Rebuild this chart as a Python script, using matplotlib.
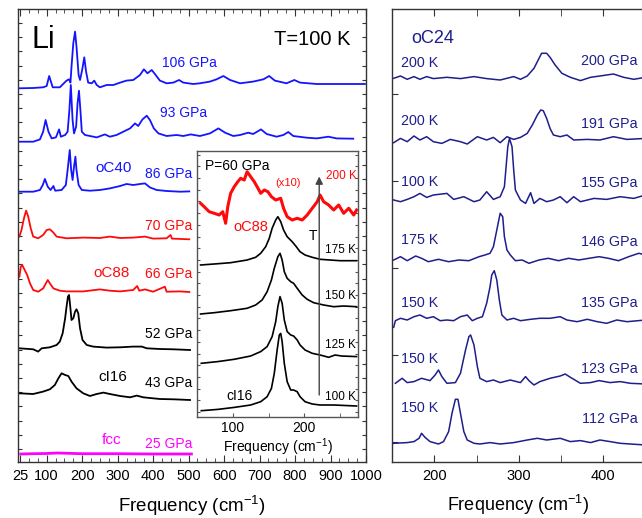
import numpy as np
import matplotlib
matplotlib.use("Agg")
import matplotlib.pyplot as plt
from matplotlib.ticker import FixedLocator

plt.rcParams['font.family'] = ['Liberation Sans', 'DejaVu Sans']
plt.rcParams['mathtext.default'] = 'regular'

BLUE = '#1414ff'
RED = '#ff0a0a'
MAGENTA = '#ff00ff'
NAVY = '#1e1e8c'

# ---- left panel: T=100 K spectra (frequency in cm-1, intensity in arb. units)
li106_f = [23, 62, 90, 100, 107, 117, 137, 156, 163, 167, 170, 175, 180, 184, 190, 194, 200, 206, 211, 217,
           227, 234, 241, 250, 269, 288, 307, 325, 344, 363, 374, 384, 396, 405, 419, 438, 457, 473, 485, 513,
           532, 560, 579, 598, 617, 645, 682, 711, 727, 743, 776, 798, 814, 861, 908, 955, 997]
li106_i = [0, 0.3, 1, 2.3, 12.3, 1, 1, 7.7, 9, 5.7, 21.7, 45, 56.7, 41.7, 13.3, 8.3, 18.3, 31, 16.7, 5.7,
           5, 7.7, 3.3, 1, 3.3, 3.3, 5.7, 7.7, 8.3, 13.3, 19, 15, 18.3, 14.3, 7.7, 5, 5.7, 8.3, 5.7, 4.3,
           5, 6.7, 9, 12.3, 8.3, 5, 6.7, 9, 12.3, 7.7, 5, 8.3, 5.7, 4.3, 4.3, 4.3, 4.3]

li93_f = [23, 62, 81, 90, 97, 105, 114, 126, 135, 140, 152, 159, 164, 168, 173, 177, 183, 187, 191, 195,
          199, 208, 222, 241, 264, 278, 297, 316, 335, 349, 358, 370, 382, 391, 402, 415, 438, 466, 485, 506,
          532, 560, 584, 603, 626, 645, 668, 682, 704, 720, 748, 767, 781, 795, 833, 861, 894, 917, 964]
li93_i = [0, 0, 2.3, 10, 21.7, 10, 3.3, 4.3, 12.3, 5, 6.7, 10, 31.7, 56.7, 21.7, 8.3, 15, 38.3, 51, 31.7,
          10, 6.7, 5.7, 4.3, 7.3, 5, 6.7, 10, 13.3, 18.3, 15.7, 22.3, 26, 21.7, 13.3, 8.3, 5.7, 6.7, 5.7, 7.3,
          5.7, 8.3, 13.3, 9, 5.7, 6.7, 9, 7.7, 12.3, 7.7, 5, 6.7, 9.7, 5.7, 4, 3.3, 5, 3.3, 3]

li86_f = [23, 62, 81, 89, 95, 103, 111, 119, 124, 142, 154, 159, 165, 169, 173, 177, 181, 184, 190, 199,
          222, 250, 278, 307, 325, 344, 363, 377, 391, 410, 438, 476, 502]
li86_i = [0, 0, 1.7, 6.7, 12.7, 5, 1.7, 5.7, 1, 1.7, 6.7, 21.7, 41.7, 21.7, 11.7, 25, 35, 21.7, 6.7, 1.7,
          1, 1.7, 3.3, 5.7, 7.7, 6.7, 7.7, 8.3, 4.3, 1.7, 0.7, 0, 0.3]

li70_f = [23, 29, 36, 42, 48, 55, 62, 76, 90, 100, 109, 119, 128, 156, 203, 250, 278, 307, 344, 377,
          400, 438, 449, 453, 502]
li70_i = [1.7, 8.3, 20, 27.7, 21.7, 10, 1.7, 0, 3.3, 8.3, 9, 5.7, 1.7, 0, 0.7, 0.3, 1.7, 0.3, 0.7, 1.7,
          -0.3, 0, 3.3, -0.3, -1]

li66_f = [23, 27, 31, 39, 45, 53, 62, 76, 90, 103, 109, 119, 137, 156, 203, 250, 278, 307, 344, 355,
          361, 377, 400, 433, 438, 476, 502]
li66_i = [15, 25, 26.7, 21, 16.7, 8.3, 1.7, 0, 3.3, 11.7, 8.3, 3.3, 1, 0.3, 0.3, 2.3, 1, 0.3, 1.7, 5.7,
          1, 2.3, 0, 5, 0, 0.3, -0.3]

li52_f = [23, 62, 76, 86, 109, 128, 137, 145, 152, 156, 160, 163, 166, 170, 175, 180, 184, 189, 194, 201,
          213, 231, 269, 307, 344, 368, 382, 419, 457, 504]
li52_i = [1, 0, -2.3, 1, 2, 4.3, 7.7, 16, 31, 42.7, 52.7, 54.3, 44.3, 29.3, 31, 37.7, 40, 36, 21, 9.3,
          4.3, 2.7, 1.7, 2, 2.7, 2.7, 1, 0.3, 0, -0.7]

li43_f = [23, 62, 90, 109, 123, 133, 142, 152, 161, 170, 184, 203, 222, 241, 260, 278, 307, 335, 354, 372,
          419, 457, 504]
li43_i = [0, -0.7, 1.7, 4, 8.3, 15, 20, 18.3, 17.3, 11.7, 5, 0, -2.7, -0.7, 0.7, -0.7, -2.7, -4, -2.3, -4,
          -5.7, -6, -6.7]

li25_f = [27, 60, 100, 130, 200, 300, 400, 508]
li25_i = [0, 0.3, 0.5, 1, 0.3, 0.3, 0, 0]

left_pressures = ['106 GPa', '93 GPa', '86 GPa', '70 GPa', '66 GPa', '52 GPa', '43 GPa', '25 GPa']
left_offsets = [373.7, 320.3, 270.3, 223.7, 170.3, 112.7, 68.7, 8]

# ---- right panel: oC24 spectra
r200_f = [152, 160, 168, 176, 183, 191, 199, 215, 231, 247, 262, 278, 294, 302, 310, 318, 324, 327, 333, 337,
          343, 351, 361, 373, 385, 396, 412, 424, 436, 450]
r200_i = [0, 2.3, -1, 1.7, -1, 1.7, -0.3, 1, -0.3, 1.7, -0.3, -1.7, 1.7, -1, 2.3, 10, 20, 25, 25, 21,
          13.3, 5, 1, -2.3, 1, 2.3, 4.3, 1, -1, 1]

r191_f = [152, 160, 168, 176, 183, 191, 199, 209, 219, 231, 239, 251, 262, 270, 278, 286, 294, 302, 310, 316,
          322, 326, 329, 333, 337, 341, 349, 357, 365, 381, 396, 412, 428, 450]
r191_i = [-1, 3.3, 0, 5.7, 1.7, 5, 0, -1.7, 2.3, 0, -2.3, 5, 1.7, 4.3, -1, 5, 2.3, 4.3, 8.3, 16.7,
          26.7, 31.7, 31, 23.3, 13.3, 6.7, 5, 6.7, 1.7, 2.3, 1.7, 5, 2.3, 3.3]

r155_f = [152, 160, 168, 176, 183, 191, 199, 215, 223, 235, 247, 254, 262, 270, 278, 283, 285, 287, 289, 292,
          294, 296, 298, 302, 308, 314, 318, 325, 333, 341, 349, 357, 365, 373, 389, 404, 420, 436, 450]
r155_i = [1.7, 0, 2.3, 5, 8.3, 4.3, 6.7, 8.3, 2.3, 5, 0, 1.7, 10, 2.3, 5, 15, 35, 55, 63.3, 55,
          31.7, 11.7, 8.3, 1.7, -1.7, 9, -1.7, 3.3, 0, 1.7, 5, -1, 5, 0, 3.3, 2.3, 5, 3.3, 6.7]

r146_f = [152, 160, 168, 178, 185, 193, 205, 217, 229, 241, 253, 260, 266, 270, 274, 278, 281, 283, 286, 290,
          296, 304, 312, 324, 335, 347, 359, 371, 383, 395, 406, 418, 430, 442, 450]
r146_i = [0, 3.3, -0.7, 4, 1.7, -1.7, 0.7, -1.7, 0, -0.7, 3.3, 5, 6.7, 13.3, 30, 46.7, 43.3, 23.3, 10, 5,
          -0.7, 0, -3.3, 0, 1.7, -0.7, 1.7, 0, 1.7, 3.3, 1.7, -0.7, 3.3, 6.7, 5]

r135_f = [152, 154, 160, 168, 176, 183, 191, 199, 207, 215, 223, 231, 239, 245, 251, 257, 262, 266, 268, 271,
          274, 277, 280, 286, 294, 302, 314, 325, 337, 349, 357, 369, 381, 393, 404, 416, 428, 450]
r135_i = [-7.3, -0.7, 1.7, 0, 3.3, 5, 1.7, 3.3, -0.7, 0, -0.7, 3.3, 5, -0.7, 1.7, 3.3, 16.7, 33.3, 45, 49.3,
          40, 20, 5, 0, 1.7, -0.7, 0.7, 1.7, 1.7, 3.3, 0, -1.7, 0.7, -1.7, -3.3, 0, -1.7, 0]

r123_f = [154, 162, 168, 176, 185, 195, 201, 205, 209, 215, 225, 231, 237, 241, 243, 247, 251, 254, 262, 270,
          278, 290, 302, 308, 312, 318, 325, 337, 349, 355, 361, 373, 385, 395, 408, 420, 432, 450]
r123_i = [0, 5, 0.7, 1.7, 5, 2.7, 8.3, 13.3, 6.7, 0, 0.7, 10, 33.3, 46.7, 48.3, 38.3, 16.7, 5, 1.7, 3.3,
          0.7, 3.3, 0.7, 6.7, 2.7, -1.7, 1.7, 5, 7.3, 9.3, 6, 0, 0.7, 2.7, 0.7, 1.7, 0, -0.7]

r112_f = [152, 168, 176, 182, 185, 189, 195, 205, 211, 217, 221, 225, 228, 231, 235, 239, 247, 254, 266, 278,
          294, 310, 322, 333, 349, 361, 373, 385, 396, 408, 420, 432, 450]
r112_i = [0, 0.7, 1.7, 5, 10, 6, 1.7, -0.7, 1.7, 11.7, 30, 44, 44, 30, 11.7, 3.3, 0, -0.7, 0.7, -0.7,
          0.7, 3.3, 5, 3.3, 5, 1.7, 2.7, 0.7, 3.3, 1.7, 0, -0.7, -1.7]

right_pressures = ['200 GPa', '191 GPa', '155 GPa', '146 GPa', '135 GPa', '123 GPa', '112 GPa']
right_temps = ['200 K', '200 K', '100 K', '175 K', '150 K', '150 K', '150 K']
right_offsets = [383.7, 320.3, 260.3, 202, 142, 78.7, 18.7]

# ---- inset: P=60 GPa, temperature series
in200_f = [55, 60, 67, 74, 81, 86, 90, 93, 97, 102, 107, 111, 116, 120, 125, 130, 134, 139, 144, 149,
           154, 160, 167, 171, 176, 183, 190, 197, 204, 211, 218, 222, 227, 234, 241, 248, 255, 262, 269, 273]
in200_i = [11.7, 8.3, 3.3, 1.7, 0, 3.3, -8.3, 8.3, 21.7, 28.3, 33.3, 36.7, 35, 43.3, 38.3, 33.3, 28.3, 21.7, 25, 23.3,
           18.3, 15, 16.7, 6.7, -1.7, -5, -3.3, -5, 0, 6.7, 13.3, 20, 13.3, 10, 5, 10, 1.7, 6.7, 0, 5]

in175_f = [55, 74, 97, 120, 132, 139, 146, 151, 155, 160, 163, 167, 171, 176, 183, 188, 194, 201, 211, 222,
           236, 250, 273]
in175_i = [0, 1, 2.3, 5, 7.7, 11.7, 18.3, 26.7, 36.7, 45, 48.3, 43.3, 35, 28.3, 23.3, 19, 13.3, 10, 7.7, 5.7,
           5, 4.3, 4.3]

in150_f = [55, 74, 97, 120, 132, 141, 148, 154, 158, 163, 166, 169, 172, 176, 181, 185, 190, 197, 204, 213,
           227, 241, 255, 273]
in150_i = [0, 1.3, 3.3, 5.7, 9, 14, 22.3, 34, 45.7, 57.3, 60.7, 54, 42.3, 35.7, 32.3, 30.7, 25.7, 19, 14.7, 11.3,
           9, 7.3, 8, 7.3]

in125_f = [56, 79, 102, 125, 139, 148, 155, 160, 163, 166, 169, 172, 176, 181, 185, 190, 194, 201, 211, 222,
           234, 243, 252, 273]
in125_i = [0, 1.7, 4, 7.3, 11.7, 16.7, 26.7, 41.7, 56.7, 66.7, 60, 43.3, 31.7, 28.3, 27.3, 23.3, 18.3, 13.3, 10, 8.3,
           6, 8.3, 7.3, 6.7]

in100_f = [56, 79, 102, 125, 139, 148, 154, 158, 162, 165, 167, 169, 172, 176, 181, 185, 190, 194, 201, 211,
           222, 241, 273]
in100_i = [0, 1.3, 3.3, 5.7, 9, 14, 22.3, 37.3, 60.7, 75.7, 77.3, 69, 47.3, 29, 20.7, 20.7, 19, 14, 9, 6.7,
           5.7, 5.7, 4.7]

inset_temps = ['200 K', '175 K', '150 K', '125 K', '100 K']
inset_offsets = [202, 152, 103, 53.7, 6.3]


def style_frame(ax, color):
    for s in ax.spines.values():
        s.set_color(color)
        s.set_linewidth(1.0)


fig = plt.figure(figsize=(6.42, 5.18), dpi=100)

# ================= left panel =================
ax = fig.add_axes([18.3 / 642, 1 - 462 / 518, 347.7 / 642, 453 / 518])
left_data = [(li106_f, li106_i, BLUE), (li93_f, li93_i, BLUE), (li86_f, li86_i, BLUE),
             (li70_f, li70_i, RED), (li66_f, li66_i, RED),
             (li52_f, li52_i, 'black'), (li43_f, li43_i, 'black'), (li25_f, li25_i, MAGENTA)]
for (f, inten, c), off in zip(left_data, left_offsets):
    lw = 2.0 if c == MAGENTA else 1.3
    ax.plot(f, np.array(inten) + off, color=c, lw=lw)

ax.set_xlim(20, 1000)
ax.set_ylim(0, 453)
ax.set_xticks([25] + list(range(100, 1001, 100)))
ax.xaxis.set_minor_locator(FixedLocator(np.arange(50, 1000, 25)))
ax.yaxis.set_major_locator(FixedLocator(np.arange(13, 453, 14.2)))
ax.set_yticklabels([])
ax.tick_params(which='both', direction='in', top=True, right=True, colors='#333333', labelcolor='black')
ax.tick_params(axis='x', which='major', length=5, labelsize=10.5, pad=5)
ax.tick_params(axis='x', which='minor', length=3)
ax.tick_params(axis='y', which='major', length=3)
ax.set_xlabel('Frequency (cm$^{-1}$)', fontsize=13.5, labelpad=8)
style_frame(ax, '#333333')

ax.text(58.6, 413.7, 'Li', fontsize=22, ha='left', va='baseline')
ax.text(957, 417, 'T=100 K', fontsize=14.5, ha='right', va='baseline')
ax.text(426, 394.7, '106 GPa', color=BLUE, fontsize=10, ha='left', va='baseline')
ax.text(419, 345.3, '93 GPa', color=BLUE, fontsize=10, ha='left', va='baseline')
ax.text(236, 290.3, 'oC40', color=BLUE, fontsize=11, ha='left', va='baseline')
right_x = 510
ax.text(right_x, 283.7, '86 GPa', color=BLUE, fontsize=10, ha='right', va='baseline')
ax.text(right_x, 232, '70 GPa', color=RED, fontsize=10, ha='right', va='baseline')
ax.text(231, 185.3, 'oC88', color=RED, fontsize=11, ha='left', va='baseline')
ax.text(right_x, 183.7, '66 GPa', color=RED, fontsize=10, ha='right', va='baseline')
ax.text(right_x, 123.7, '52 GPa', color='black', fontsize=10, ha='right', va='baseline')
ax.text(247, 81.3, 'cI16', color='black', fontsize=11, ha='left', va='baseline')
ax.text(right_x, 75.3, '43 GPa', color='black', fontsize=10, ha='right', va='baseline')
ax.text(255, 18, 'fcc', color=MAGENTA, fontsize=11, ha='left', va='baseline')
ax.text(right_x, 13.7, '25 GPa', color=MAGENTA, fontsize=10, ha='right', va='baseline')

# ================= inset =================
ins = fig.add_axes([197 / 642, 1 - 417 / 518, 161 / 642, 266 / 518])
ins.set_facecolor('white')
inset_data = [(in200_f, in200_i, RED), (in175_f, in175_i, 'black'), (in150_f, in150_i, 'black'),
              (in125_f, in125_i, 'black'), (in100_f, in100_i, 'black')]
for (f, inten, c), off in zip(inset_data, inset_offsets):
    ins.plot(f, np.array(inten) + off, color=c, lw=2.2 if c == RED else 1.2)
ins.set_xlim(50, 275)
ins.set_ylim(0, 266)
ins.set_xticks([100, 200])
ins.xaxis.set_minor_locator(FixedLocator([50, 150, 250]))
ins.yaxis.set_major_locator(FixedLocator(np.arange(5, 266, 11.7)))
ins.set_yticklabels([])
ins.tick_params(which='both', direction='in', right=True, colors='#555555', labelcolor='black')
ins.tick_params(axis='x', which='both', length=3, labelsize=10, pad=3)
ins.tick_params(axis='y', length=2.5)
ins.set_xlabel('Frequency (cm$^{-1}$)', fontsize=10, labelpad=1)
style_frame(ins, '#555555')

ins.annotate('', xy=(220.8, 240.5), xytext=(220.8, 22),
             arrowprops=dict(arrowstyle='-|>', color='#444444', lw=1.0, mutation_scale=11,
                             shrinkA=0, shrinkB=0))
ins.text(61, 247, 'P=60 GPa', fontsize=10, ha='left', va='baseline')
ins.text(159.7, 231.5, '(x10)', color=RED, fontsize=8, ha='left', va='baseline')
ins.text(273, 237.7, inset_temps[0], color=RED, fontsize=8.5, ha='right', va='baseline')
ins.text(101, 186.3, 'oC88', color=RED, fontsize=10.5, ha='left', va='baseline')
ins.text(206, 177, 'T', fontsize=10, ha='left', va='baseline')
for t, yb in zip(inset_temps[1:], [164.3, 117.7, 68.7, 17]):
    ins.text(272, yb, t, fontsize=8.5, ha='right', va='baseline')
ins.text(91.3, 17, 'cI16', fontsize=10, ha='left', va='baseline')

# ================= right panel =================
ax2 = fig.add_axes([392 / 642, 1 - 462 / 518, 262 / 642, 453 / 518])
right_data = [(r200_f, r200_i), (r191_f, r191_i), (r155_f, r155_i), (r146_f, r146_i),
              (r135_f, r135_i), (r123_f, r123_i), (r112_f, r112_i)]
for (f, inten), off in zip(right_data, right_offsets):
    ax2.plot(f, np.array(inten) + off, color=NAVY, lw=1.1)
ax2.set_xlim(150, 460)
ax2.set_ylim(0, 453)
ax2.set_xticks([200, 300, 400])
ax2.xaxis.set_minor_locator(FixedLocator([150, 250, 350, 450]))
ax2.yaxis.set_major_locator(FixedLocator(np.arange(20, 453, 87)))
ax2.set_yticklabels([])
ax2.tick_params(which='both', direction='in', top=True, colors='#333333', labelcolor='black')
ax2.tick_params(axis='x', which='both', length=5, labelsize=10.5, pad=5)
ax2.tick_params(axis='y', length=4)
ax2.spines['right'].set_visible(False)
style_frame(ax2, '#333333')
ax2.set_xlabel('Frequency (cm$^{-1}$)', fontsize=13, labelpad=1)
ax2.xaxis.set_label_coords((518 - 392) / 262, -0.068)

ax2.text(172.4, 418.7, 'oC24', color=NAVY, fontsize=13, ha='left', va='baseline')
temp_y = [395.3, 337, 276.3, 217.7, 154.7, 98.7, 50.3]
press_y = [397, 334.3, 275.3, 216, 154.7, 89.3, 39.3]
for t, p, ty, py in zip(right_temps, right_pressures, temp_y, press_y):
    ax2.text(161, ty, t, color=NAVY, fontsize=10.3, ha='left', va='baseline')
    ax2.text(441, py, p, color=NAVY, fontsize=10.3, ha='right', va='baseline')

fig.savefig('out.png', dpi=100)
